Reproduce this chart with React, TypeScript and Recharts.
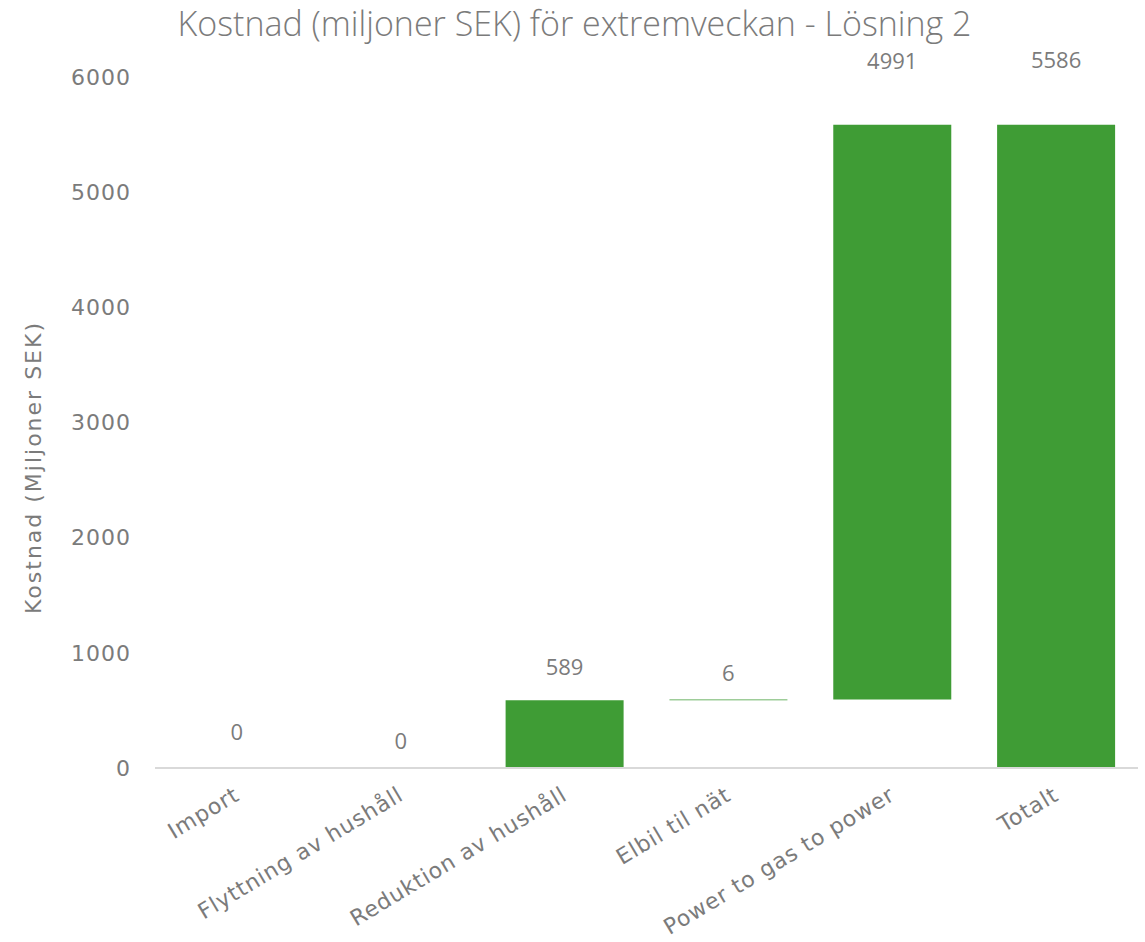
import React from 'react';
import { Bar, ComposedChart, Line, XAxis, YAxis, LabelList } from 'recharts';

const categories = ['Import', 'Flyttning av hushåll', 'Reduktion av hushåll', 'Elbil til nät', 'Power to gas to power', 'Totalt'];
const costs = [0, 0, 589, 6, 4991, 5586];
const bases = [0, 0, 0, 589, 595, 0];
const yTicks = [0, 1000, 2000, 3000, 4000, 5000, 6000];
// how far each value label sits above its bar (Excel waterfall placement)
const labelLift = [37, 28, 34, 27, 65, 66];

const chartData = categories.map((name, i) => ({
    name,
    base: bases[i],
    cost: costs[i],
    top: bases[i] + costs[i],
}));

const grey = '#7b7b7b';
const green = '#3f9c35';
const axisFont = 'DejaVu Sans';

const ValueLabel = (props: any) => {
    const { x, y, value, index } = props;
    return (
        <text x={x} y={y - labelLift[index]} textAnchor="middle" dominantBaseline="central"
            fill={grey} fontSize={22} fontFamily="Open Sans">
            {value}
        </text>
    );
};

const CatTick = (props: any) => {
    const { x, y, payload } = props;
    return (
        <text x={x + 4} y={y + 23} textAnchor="end" transform={`rotate(-31, ${x + 4}, ${y + 23})`}
            fill={grey} fontSize={22} letterSpacing={0.9} fontFamily={axisFont}>
            {payload.value}
        </text>
    );
};

const YTitle = (props: any) => {
    const { viewBox } = props;
    const cy = viewBox.y + viewBox.height / 2 + 45;
    return (
        <text x={33} y={cy} textAnchor="middle" dominantBaseline="central" transform={`rotate(-90, 33, ${cy})`}
            fill={grey} fontSize={22} letterSpacing={2} fontFamily={axisFont}>
            Kostnad (Mjljoner SEK)
        </text>
    );
};

const App = () => {
    return (
        <div style={{ position: 'absolute', left: 0, top: 0, width: 1145, height: 942, background: '#fff' }}>
            <div style={{ position: 'absolute', top: 0, left: 0, width: 1145, textAlign: 'center', paddingLeft: 2,
                fontFamily: 'Open Sans', fontWeight: 300, fontSize: 34, color: grey, whiteSpace: 'nowrap' }}>
                Kostnad (miljoner SEK) för extremveckan - Lösning 2
            </div>
            <ComposedChart width={1145} height={942} data={chartData} barCategoryGap="14%"
                margin={{ top: 77, right: 7, bottom: 144, left: 0 }}>
                <XAxis dataKey="name" interval={0} tickLine={false} height={30} stroke="#d9d9d9" strokeWidth={2}
                    tick={<CatTick />} />
                <YAxis width={155} domain={[0, 6000]} ticks={yTicks} axisLine={false} tickLine={false}
                    tickSize={0} tickMargin={24}
                    tick={{ fill: grey, fontSize: 22, fontFamily: axisFont, letterSpacing: 1 }}
                    label={<YTitle />} />
                <Bar dataKey="base" stackId="w" fill="transparent" isAnimationActive={false} />
                <Bar dataKey="cost" stackId="w" fill={green} isAnimationActive={false} />
                <Line dataKey="top" stroke="none" dot={false} activeDot={false} legendType="none"
                    isAnimationActive={false}>
                    <LabelList dataKey="cost" content={<ValueLabel />} />
                </Line>
            </ComposedChart>
        </div>
    );
};

export default App;
